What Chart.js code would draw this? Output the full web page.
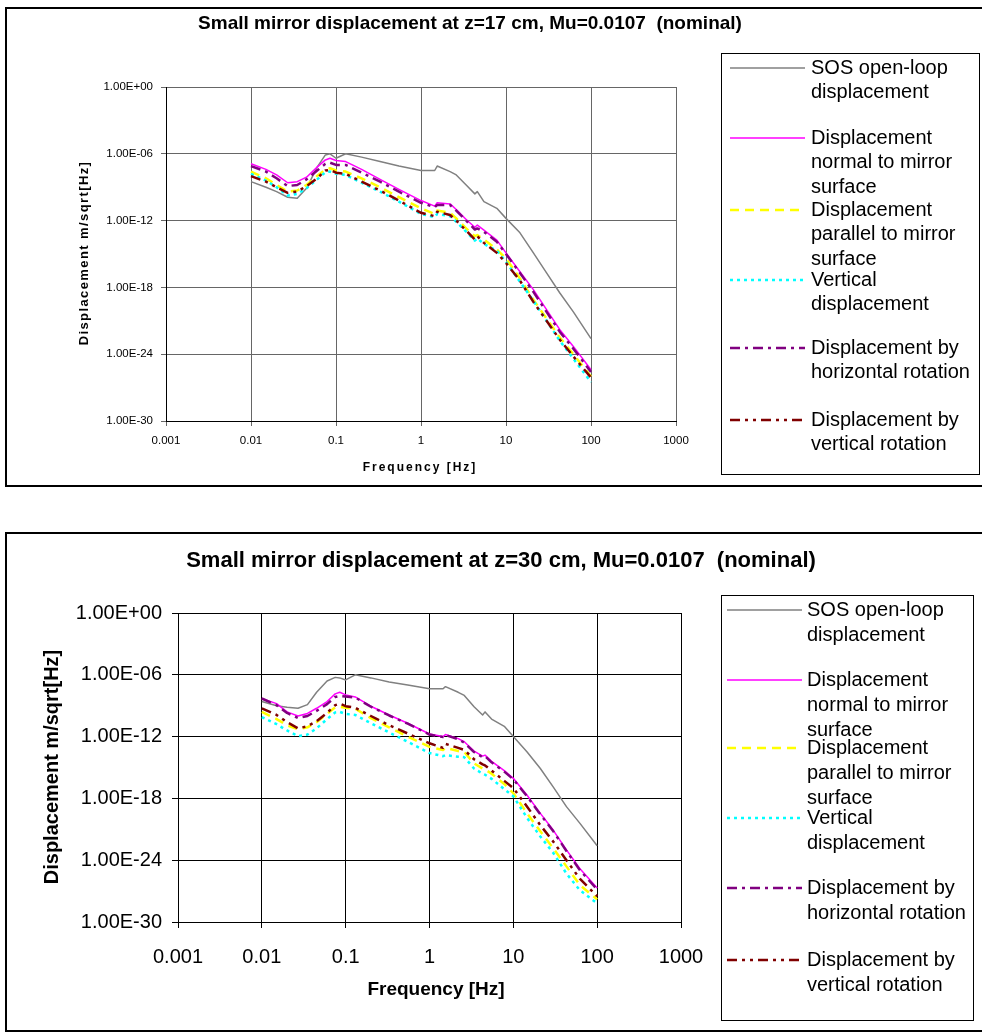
<!DOCTYPE html>
<html>
<head>
<meta charset="utf-8">
<script src="https://cdn.jsdelivr.net/npm/chart.js@4.4.1/dist/chart.umd.min.js"></script>
<style>
  body { margin: 0; background: #fff; width: 982px; height: 1036px; overflow: hidden; position: relative; }
  .frame { position: absolute; left: 5px; width: 1000px; border: 2px solid #000; box-sizing: border-box; }
  canvas { position: absolute; left: 0; }
</style>
</head>
<body>
<div class="frame" style="top:7px;height:480px"></div>
<div class="frame" style="top:532px;height:500px"></div>
<canvas id="c17" width="982" height="500" style="top:0"></canvas>
<canvas id="c30" width="982" height="526" style="top:510px"></canvas>

<script>
// frequencies [Hz] shared by every series
const freq = [0.01, 0.015, 0.02, 0.027, 0.035, 0.045, 0.06, 0.075, 0.085, 0.1, 0.13, 0.2, 0.33, 0.55,
              1, 1.45, 1.55, 2.2, 2.6, 3.4, 4.3, 4.6, 5.5, 7.8, 10, 14.6, 21, 30, 43, 62, 100];

// values are log10 of displacement [m/sqrt(Hz)]
// z = 17 cm
const sos17      = [-8.5, -9.0, -9.4, -9.9, -10.0, -9.1, -7.2, -6.1, -6.0, -6.4, -6.0, -6.3, -6.7, -7.1,
                    -7.5, -7.5, -7.1, -7.6, -7.9, -8.8, -9.6, -9.4, -10.3, -10.9, -11.8, -13.1, -14.9, -16.7, -18.5, -20.2, -22.6];
const normal17   = [-6.9, -7.4, -7.9, -8.6, -8.5, -8.1, -7.2, -6.55, -6.4, -6.6, -6.7, -7.4, -8.3, -9.2,
                    -10.2, -10.7, -10.4, -10.5, -11.0, -11.9, -12.6, -12.4, -12.85, -13.75, -14.9, -16.6, -18.2, -20.0, -21.8, -23.3, -25.4];
const parallel17 = [-7.6, -8.2, -8.8, -9.4, -9.3, -8.8, -8.0, -7.4, -7.3, -7.5, -7.6, -8.2, -9.0, -9.9,
                    -10.9, -11.4, -11.1, -11.3, -11.8, -12.7, -13.4, -13.3, -13.7, -14.6, -15.4, -17.2, -19.1, -20.8, -22.5, -24.0, -26.0];
const vertical17 = [-7.8, -8.4, -9.0, -9.75, -9.6, -9.1, -8.3, -7.65, -7.6, -7.8, -7.9, -8.6, -9.4, -10.3,
                    -11.4, -11.7, -11.4, -11.6, -12.1, -13.0, -13.8, -13.6, -14.1, -14.7, -15.7, -17.5, -19.2, -21.0, -22.8, -24.4, -26.5];
const hRot17     = [-7.1, -7.6, -8.2, -8.9, -8.8, -8.3, -7.5, -6.9, -6.8, -7.0, -7.0, -7.7, -8.5, -9.4,
                    -10.4, -10.8, -10.6, -10.6, -11.1, -12.0, -12.8, -12.7, -13.0, -13.9, -15.0, -16.7, -18.4, -20.2, -22.0, -23.5, -25.6];
const vRot17     = [-8.0, -8.5, -9.0, -9.5, -9.4, -8.9, -8.2, -7.5, -7.45, -7.7, -7.8, -8.5, -9.3, -10.2,
                    -11.3, -11.6, -11.2, -11.5, -12.0, -12.9, -13.7, -13.4, -14.0, -14.9, -15.8, -17.4, -19.3, -21.0, -22.7, -24.2, -26.1];

// z = 30 cm
const sos30      = [-8.6, -9.0, -9.15, -9.25, -8.9, -7.7, -6.6, -6.25, -6.3, -6.5, -6.0, -6.3, -6.7, -7.0,
                    -7.35, -7.35, -7.15, -7.7, -8.0, -9.1, -9.9, -9.6, -10.3, -11.0, -12.0, -13.5, -15.1, -16.9, -18.8, -20.4, -22.6];
const normal30   = [-8.3, -8.8, -9.6, -10.0, -9.75, -9.25, -8.6, -7.85, -7.7, -7.95, -8.15, -9.05, -9.9, -10.7,
                    -11.75, -12.0, -11.8, -12.2, -12.5, -13.4, -13.9, -13.8, -14.4, -15.3, -16.05, -17.7, -19.45, -21.1, -23.0, -24.8, -26.7];
const parallel30 = [-9.6, -10.3, -10.9, -11.3, -11.1, -10.6, -9.8, -9.15, -9.1, -9.2, -9.3, -10.2, -11.1, -12.0,
                    -13.0, -13.3, -13.1, -13.4, -13.5, -14.6, -15.1, -15.2, -15.6, -16.6, -17.5, -19.45, -21.2, -22.85, -24.6, -26.4, -27.8];
const vertical30 = [-10.1, -10.8, -11.4, -11.95, -11.8, -11.2, -10.3, -9.65, -9.6, -9.8, -9.9, -10.7, -11.6, -12.5,
                    -13.6, -13.9, -13.8, -13.95, -14.0, -15.1, -15.6, -15.7, -16.1, -17.1, -17.8, -19.9, -21.7, -23.3, -25.3, -26.9, -28.2];
const hRot30     = [-8.3, -8.95, -9.7, -10.2, -10.0, -9.5, -8.85, -8.15, -8.05, -8.1, -8.2, -9.1, -9.95, -10.75,
                    -11.8, -12.05, -11.85, -12.25, -12.6, -13.5, -14.0, -13.9, -14.5, -15.4, -16.15, -17.8, -19.55, -21.2, -23.1, -24.95, -26.85];
const vRot30     = [-9.25, -9.9, -10.6, -11.2, -11.0, -10.5, -9.7, -8.95, -8.8, -9.05, -9.2, -10.0, -10.9, -11.7,
                    -12.65, -13.1, -12.7, -13.1, -13.3, -14.2, -14.7, -14.8, -15.3, -16.3, -17.0, -18.8, -20.6, -22.2, -24.0, -25.8, -27.5];

const seriesNames = ['SOS open-loop displacement', 'Displacement normal to mirror surface',
                     'Displacement parallel to mirror surface', 'Vertical displacement',
                     'Displacement by horizontal rotation', 'Displacement by vertical rotation'];
const legendLines = [['SOS open-loop', 'displacement'], ['Displacement', 'normal to mirror', 'surface'],
                     ['Displacement', 'parallel to mirror', 'surface'], ['Vertical', 'displacement'],
                     ['Displacement by', 'horizontal rotation'], ['Displacement by', 'vertical rotation']];

const xTickValues = [0.001, 0.01, 0.1, 1, 10, 100, 1000];
const xTickLabels = ['0.001', '0.01', '0.1', '1', '10', '100', '1000'];
const yTickValues = [-30, -24, -18, -12, -6, 0];
const yTickLabels = ['1.00E-30', '1.00E-24', '1.00E-18', '1.00E-12', '1.00E-06', '1.00E+00'];

const FONT = '"Liberation Sans", Arial, sans-serif';

// excel-ish line styles
const styles = [
  { color: '#808080', dash: [], width: 1.5 },
  { color: '#ff00ff', dash: [], width: 1.5 },
  { color: '#ffff00', dash: [9, 6], width: 2.5 },
  { color: '#00ffff', dash: [3, 4], width: 2.5 },
  { color: '#800080', dash: [10, 5, 3, 5], width: 2.5 },
  { color: '#800000', dash: [10, 5, 3, 5, 3, 5], width: 2.5 }
];

function buildDatasets(series) {
  return series.map((vals, i) => ({
    label: seriesNames[i],
    data: freq.map((f, k) => ({ x: f, y: vals[k] })),
    borderColor: styles[i].color,
    borderDash: styles[i].dash,
    borderWidth: styles[i].width,
    pointRadius: 0,
    fill: false,
    tension: 0,
    borderJoinStyle: 'round',
    order: 6 - i
  }));
}

function drawText(ctx, t) {
  ctx.font = t.font;
  ctx.letterSpacing = (t.spacing || 0) + 'px';
  ctx.textAlign = 'center';
  ctx.textBaseline = 'middle';
  ctx.fillStyle = '#000';
  if (t.rotate) {
    ctx.save();
    ctx.translate(t.x, t.y);
    ctx.rotate(-Math.PI / 2);
    ctx.fillText(t.text, 0, 0);
    ctx.restore();
  } else {
    ctx.fillText(t.text, t.x, t.y);
  }
  ctx.letterSpacing = '0px';
}

// titles and the boxed legend on the right
function makeDeco(cfg) {
  return {
    id: 'deco',
    afterDraw(chart) {
      const ctx = chart.ctx;
      ctx.save();
      drawText(ctx, cfg.title);
      drawText(ctx, cfg.yTitle);
      drawText(ctx, cfg.xTitle);

      const lg = cfg.legend;
      ctx.strokeStyle = '#000';
      ctx.lineWidth = 1;
      ctx.strokeRect(lg.box[0] + 0.5, lg.box[1] + 0.5, lg.box[2], lg.box[3]);
      ctx.font = lg.font;
      ctx.textAlign = 'left';
      ctx.textBaseline = 'middle';
      lg.rows.forEach((y, i) => {
        const ds = chart.data.datasets[i];
        ctx.strokeStyle = ds.borderColor;
        ctx.lineWidth = ds.borderWidth;
        ctx.setLineDash(ds.borderDash);
        ctx.beginPath();
        ctx.moveTo(lg.sample[0], y);
        ctx.lineTo(lg.sample[1], y);
        ctx.stroke();
        ctx.setLineDash([]);
        ctx.fillStyle = '#000';
        legendLines[i].forEach((txt, j) => ctx.fillText(txt, lg.textX, y + j * lg.lineH));
      });
      ctx.restore();
    }
  };
}

function makeChart(id, series, opt) {
  return new Chart(document.getElementById(id), {
    type: 'line',
    data: { datasets: buildDatasets(series) },
    options: {
      responsive: false,
      animation: false,
      devicePixelRatio: 1,
      layout: { padding: opt.padding },
      plugins: { legend: { display: false }, title: { display: false }, tooltip: { enabled: false } },
      scales: {
        x: {
          type: 'logarithmic',
          min: 0.001,
          max: 1000,
          afterBuildTicks: s => { s.ticks = xTickValues.map(v => ({ value: v })); },
          afterFit: s => { s.height = opt.xHeight; },
          ticks: {
            autoSkip: false, maxRotation: 0, color: '#000', padding: opt.xPad,
            font: { family: FONT, size: opt.tickSize },
            callback: (v, i) => xTickLabels[i]
          },
          grid: { color: opt.gridColor, lineWidth: 1, tickLength: opt.tickLen },
          border: { color: '#000', width: 1 }
        },
        y: {
          type: 'linear',
          min: -30,
          max: 0,
          afterBuildTicks: s => { s.ticks = yTickValues.map(v => ({ value: v })); },
          afterFit: s => { s.width = opt.yWidth; },
          ticks: {
            color: '#000', padding: opt.yPad,
            font: { family: FONT, size: opt.tickSize },
            callback: (v, i) => yTickLabels[i]
          },
          grid: { color: opt.gridColor, lineWidth: 1, tickLength: opt.tickLen },
          border: { color: '#000', width: 1 }
        }
      }
    },
    plugins: [makeDeco(opt.deco)]
  });
}

makeChart('c17', [sos17, normal17, parallel17, vertical17, hRot17, vRot17], {
  padding: { top: 87, right: 306, left: 0, bottom: 39 },
  xHeight: 40, yWidth: 166, tickSize: 11.5, tickLen: 5, xPad: 8, yPad: 8, gridColor: '#666',
  deco: {
    title:  { text: 'Small mirror displacement at z=17 cm, Mu=0.0107  (nominal)', x: 470, y: 24, font: 'bold 19px ' + FONT },
    yTitle: { text: 'Displacement m/sqrt[Hz]', x: 84, y: 253, font: 'bold 13px ' + FONT, spacing: 1.4, rotate: true },
    xTitle: { text: 'Frequency [Hz]', x: 420, y: 468, font: 'bold 12px ' + FONT, spacing: 2 },
    legend: { box: [721, 53, 258, 421], sample: [730, 805], textX: 811, lineH: 24.5,
              font: '20px ' + FONT, rows: [68, 138, 210, 280, 348, 420] }
  }
});

makeChart('c30', [sos30, normal30, parallel30, vertical30, hRot30, vRot30], {
  padding: { top: 103, right: 301, left: 0, bottom: 54 },
  xHeight: 60, yWidth: 178, tickSize: 20, tickLen: 6, xPad: 17, yPad: 10, gridColor: '#000',
  deco: {
    title:  { text: 'Small mirror displacement at z=30 cm, Mu=0.0107  (nominal)', x: 501, y: 51, font: 'bold 22px ' + FONT },
    yTitle: { text: 'Displacement m/sqrt[Hz]', x: 52, y: 257, font: 'bold 20px ' + FONT, rotate: true },
    xTitle: { text: 'Frequency [Hz]', x: 436, y: 480, font: 'bold 19px ' + FONT },
    legend: { box: [721, 85, 252, 425], sample: [727, 802], textX: 807, lineH: 25,
              font: '20px ' + FONT, rows: [100, 170, 238, 308, 378, 450] }
  }
});
</script>
</body>
</html>
